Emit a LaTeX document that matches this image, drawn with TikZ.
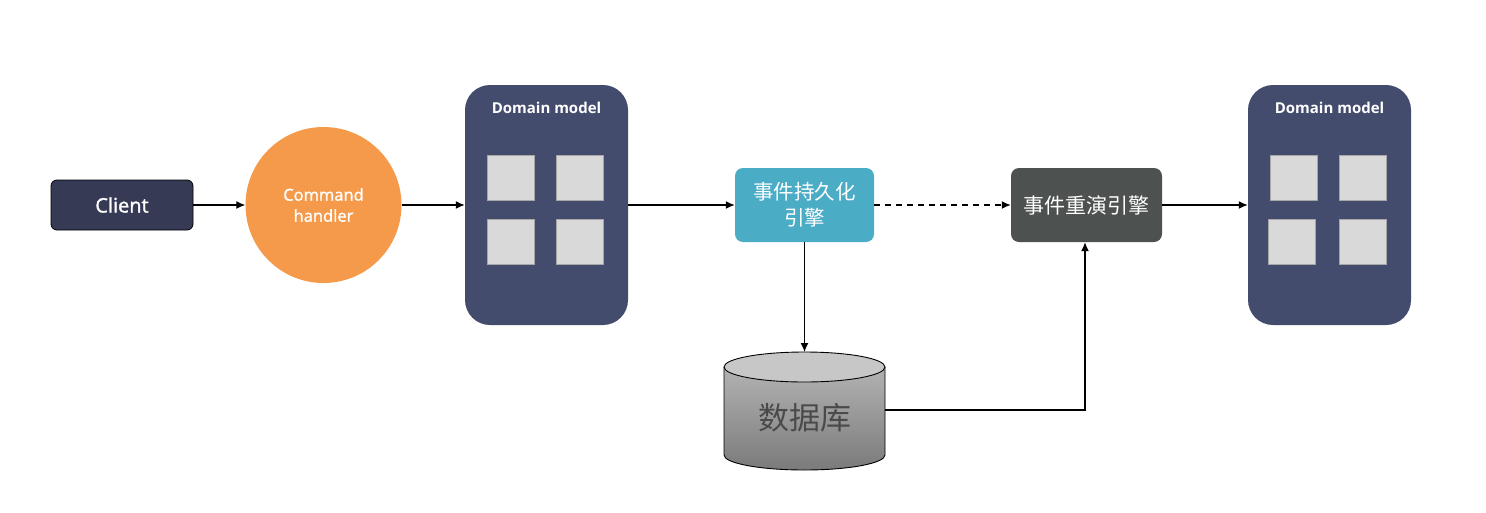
\documentclass[tikz,border=0pt]{standalone}
\usepackage{fontspec}
\setmainfont{Open Sans}
\newfontfamily\semib[FakeBold=1.5]{Open Sans}
\newfontfamily\cjk{Noto Sans CJK SC}
\usetikzlibrary{arrows.meta}
\definecolor{clientc}{HTML}{363A55}
\definecolor{orangec}{HTML}{F5994A}
\definecolor{dmc}{HTML}{444C6E}
\definecolor{sqc}{HTML}{D9D9D9}
\definecolor{sqb}{HTML}{A6A6A6}
\definecolor{persc}{HTML}{4BACC6}
\definecolor{replc}{HTML}{4D5150}
\definecolor{dbtext}{HTML}{4A4A4A}
\tikzset{
  arr/.style={draw=black, line width=1.3pt, -{Latex[length=9pt,width=8pt]}},
  dmbox/.style={draw=none, fill=dmc, rounded corners=25pt, minimum width=163pt, minimum height=240pt, inner sep=0pt},
  sq/.style={draw=sqb, line width=0.6pt, fill=sqc, minimum width=47pt, minimum height=45pt, inner sep=0pt},
  engine/.style={rounded corners=8pt, minimum height=74pt, inner sep=0pt, text=white, align=center, font=\cjk\fontsize{20.5}{26}\selectfont},
  dmlabel/.style={text=white, font=\bfseries\fontsize{15}{18}\selectfont},
}
\begin{document}
\begin{tikzpicture}[x=1pt,y=-1pt]
\useasboundingbox (0,0) rectangle (1486,512);
% client
\node[draw=black, line width=0.8pt, fill=clientc, rounded corners=6pt, minimum width=142pt, minimum height=50pt, inner sep=0pt, text=white, font=\semib\fontsize{20}{24}\selectfont] (client) at (122,205) {Client};
% command handler
\node[circle, fill=orangec, minimum size=156pt, inner sep=0pt, text=white, align=center, font=\semib\fontsize{16.5}{21}\selectfont] (cmd) at (323.5,205) {Command\\handler};
% domain model 1
\node[dmbox] (dm1) at (546.5,205) {};
\node[dmlabel] (dm1l) at (546.5,108) {Domain model};
\node[sq] (a1) at (510.5,177.5) {};
\node[sq] (a2) at (579.5,177.5) {};
\node[sq] (a3) at (510.5,241.5) {};
\node[sq] (a4) at (579.5,241.5) {};
% domain model 2
\node[dmbox] (dm2) at (1329.5,205) {};
\node[dmlabel] (dm2l) at (1329.5,108) {Domain model};
\node[sq] (b1) at (1294,177.5) {};
\node[sq] (b2) at (1363,177.5) {};
\node[sq] (b3) at (1292,241.5) {};
\node[sq] (b4) at (1363,241.5) {};
% engines
\node[engine, fill=persc, minimum width=139pt] (pers) at (804.5,205) {事件持久化\\引擎};
\node[engine, fill=replc, minimum width=151pt, font=\cjk\fontsize{21}{26}\selectfont] (repl) at (1086.5,205) {事件重演引擎};
% database cylinder
\shade[top color=black!30, bottom color=black!52, draw=black, line width=0.9pt]
  (724,367) -- (724,455) arc[start angle=180, end angle=0, x radius=80.5, y radius=15] -- (885,367);
\draw[fill=black!22, line width=0.9pt] (804.5,367) ellipse[x radius=80.5, y radius=15];
\node[minimum width=161pt, minimum height=118pt, inner sep=0pt] (db) at (804.5,411) {};
\node[text=dbtext, font=\cjk\fontsize{31}{34}\selectfont] (dbl) at (804.5,418) {数据库};
\coordinate (dbtop) at (804.5,352);
\coordinate (dbright) at (885,410);
\coordinate (bend) at (1085,410);
% connectors
\draw[arr] (client.east) -- (cmd.west);
\draw[arr] (cmd.east) -- (dm1.west);
\draw[arr] (dm1.east) -- (pers.west);
\draw[arr, dashed, dash pattern=on 6pt off 5pt] (pers.east) -- (repl.west);
\draw[arr] (repl.east) -- (dm2.west);
\draw[arr] (pers.south) -- (dbtop);
\draw[arr] (dbright) -- (bend) -- (repl.south -| bend);
\end{tikzpicture}
\end{document}
